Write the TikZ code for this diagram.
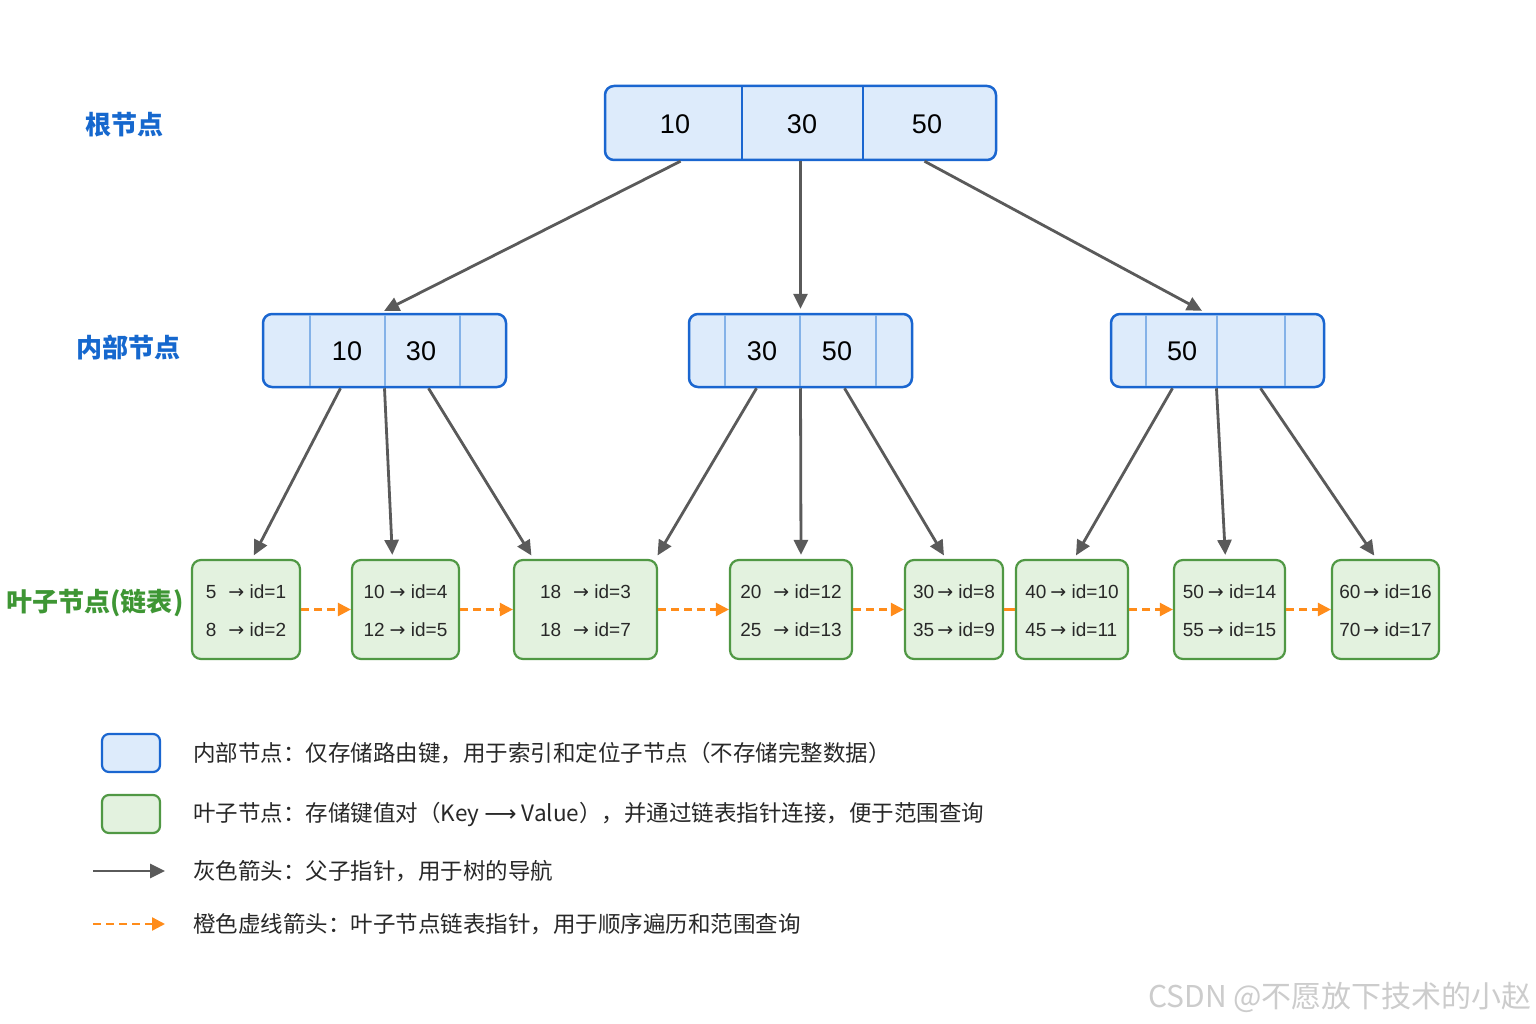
\documentclass[tikz,border=0pt]{standalone}
\usepackage{fontspec}
\setmainfont{Liberation Sans}
\newfontfamily\cjk{Noto Sans CJK SC}
\newfontfamily\sym{DejaVu Sans}
\usetikzlibrary{arrows.meta,positioning}
\definecolor{bpblue}{RGB}{26,102,208}
\definecolor{bpbluefill}{RGB}{221,235,251}
\definecolor{bpbluesep}{RGB}{132,178,232}
\definecolor{bpgreen}{RGB}{80,152,68}
\definecolor{bpgreenfill}{RGB}{227,242,223}
\definecolor{bpgray}{RGB}{90,90,90}
\definecolor{bporange}{RGB}{255,140,26}
\definecolor{bptext}{RGB}{40,40,40}
\definecolor{bplabelblue}{RGB}{22,104,206}
\definecolor{bplabelgreen}{RGB}{62,150,52}

\begin{document}
\begin{tikzpicture}[x=1pt,y=-1pt,
 keybox/.style={draw=bpblue,fill=bpbluefill,line width=2.5pt,rounded corners=9pt,
 minimum height=74pt,inner sep=0pt},
 leafbox/.style={draw=bpgreen,fill=bpgreenfill,line width=2.2pt,rounded corners=9pt,
 minimum height=99pt,inner sep=0pt,text=bptext,font=\fontsize{19}{38}\selectfont},
 rootline/.style={draw=bpblue,line width=2.2pt},
 keyline/.style={draw=bpbluesep,line width=1.6pt},
 num/.style={font=\fontsize{27}{32}\selectfont,inner sep=0pt},
 tree/.style={-{Triangle[length=15pt,width=14pt]},draw=bpgray,line width=2.8pt,shorten >=4pt},
 link/.style={-{Triangle[length=13pt,width=13pt]},draw=bporange,line width=2.4pt,
 dash pattern=on 8pt off 5pt},
 tag/.style={font=\cjk\bfseries\fontsize{26}{32}\selectfont},
 legtxt/.style={font=\cjk\fontsize{22.5}{27}\selectfont,text=bptext,inner sep=0pt}]
\useasboundingbox (0,0) rectangle (1536,1024);
\fill[white] (0,0) rectangle (1536,1024);

\node[tag,text=bplabelblue] (lroot) at (124,125) {根节点};
\node[tag,text=bplabelblue] (linner) at (128,348) {内部节点};
\node[tag,text=bplabelgreen] (lleaf) at (95,603) {叶子节点(链表)};

\node[keybox,minimum width=391pt] (root) at (800.5,123) {};
\draw[rootline] (742,86) -- (742,160) (863,86) -- (863,160);
\node[num] (r10) at (675,124) {10};
\node[num] (r30) at (802,124) {30};
\node[num] (r50) at (927,124) {50};

\node[keybox,minimum width=243pt,minimum height=73pt] (inner1) at (384.5,350.5) {};
\draw[keyline] (310,315) -- (310,386) (385,315) -- (385,386) (460,315) -- (460,386);
\node[num] (a10) at (347,351) {10};
\node[num] (a30) at (421,351) {30};

\node[keybox,minimum width=223pt,minimum height=73pt] (inner2) at (800.5,350.5) {};
\draw[keyline] (725,315) -- (725,386) (800,315) -- (800,386) (876,315) -- (876,386);
\node[num] (b30) at (762,351) {30};
\node[num] (b50) at (837,351) {50};

\node[keybox,minimum width=213pt,minimum height=73pt] (inner3) at (1217.5,350.5) {};
\draw[keyline] (1146,315) -- (1146,386) (1217,315) -- (1217,386) (1285,315) -- (1285,386);
\node[num] (c50) at (1182,351) {50};

\draw[tree] ([xshift=-120pt]root.south) -- ([xshift=-4pt]inner1.north);
\draw[tree] (root.south) -- (inner2.north);
\draw[tree] ([xshift=124pt]root.south) -- ([xshift=-12pt]inner3.north);

\node[leafbox,minimum width=108pt] (leaf1) at (246,609.5)
 {\begin{tabular}{@{}l@{\hspace{12pt}}l@{}}5 & {\sym →} id=1\\8 & {\sym →} id=2\end{tabular}};
\node[leafbox,minimum width=107pt] (leaf2) at (405.5,609.5)
 {\begin{tabular}{@{}l@{\hspace{5pt}}l@{}}10 & {\sym →} id=4\\12 & {\sym →} id=5\end{tabular}};
\node[leafbox,minimum width=143pt] (leaf3) at (585.5,609.5)
 {\begin{tabular}{@{}l@{\hspace{12pt}}l@{}}18 & {\sym →} id=3\\18 & {\sym →} id=7\end{tabular}};
\node[leafbox,minimum width=122pt] (leaf4) at (791,609.5)
 {\begin{tabular}{@{}l@{\hspace{12pt}}l@{}}20 & {\sym →} id=12\\25 & {\sym →} id=13\end{tabular}};
\node[leafbox,minimum width=98pt] (leaf5) at (954,609.5)
 {\begin{tabular}{@{}l@{\hspace{3pt}}l@{}}30 & {\sym →} id=8\\35 & {\sym →} id=9\end{tabular}};
\node[leafbox,minimum width=112pt] (leaf6) at (1072,609.5)
 {\begin{tabular}{@{}l@{\hspace{4pt}}l@{}}40 & {\sym →} id=10\\45 & {\sym →} id=11\end{tabular}};
\node[leafbox,minimum width=111pt] (leaf7) at (1229.5,609.5)
 {\begin{tabular}{@{}l@{\hspace{4pt}}l@{}}50 & {\sym →} id=14\\55 & {\sym →} id=15\end{tabular}};
\node[leafbox,minimum width=107pt] (leaf8) at (1385.5,609.5)
 {\begin{tabular}{@{}l@{\hspace{3pt}}l@{}}60 & {\sym →} id=16\\70 & {\sym →} id=17\end{tabular}};

\draw[tree] ([xshift=-44pt]inner1.south) -- ([xshift=6pt]leaf1.north);
\draw[tree] (inner1.south) -- ([xshift=-13pt]leaf2.north);
\draw[tree] ([xshift=44pt]inner1.south) -- ([xshift=-52pt]leaf3.north);
\draw[tree] ([xshift=-44pt]inner2.south) -- ([xshift=70pt]leaf3.north);
\draw[tree] (inner2.south) -- ([xshift=10pt]leaf4.north);
\draw[tree] ([xshift=44pt]inner2.south) -- ([xshift=-8pt]leaf5.north);
\draw[tree] ([xshift=-45pt]inner3.south) -- ([xshift=2pt]leaf6.north);
\draw[tree] ([xshift=-1pt]inner3.south) -- ([xshift=-4pt]leaf7.north);
\draw[tree] ([xshift=43pt]inner3.south) -- ([xshift=-9pt]leaf8.north);

\draw[link] (leaf1) -- (leaf2);
\draw[link] (leaf2) -- (leaf3);
\draw[link] (leaf3) -- (leaf4);
\draw[link] (leaf4) -- (leaf5);
\draw[draw=bporange,line width=2.4pt] (leaf5) -- (leaf6);
\draw[link] (leaf6) -- (leaf7);
\draw[link] (leaf7) -- (leaf8);

\node[keybox,minimum width=58pt,minimum height=38pt,line width=2.2pt,rounded corners=7pt]
 (legblue) at (131,753) {};
\node[leafbox,minimum width=58pt,minimum height=38pt,rounded corners=7pt]
 (leggreen) at (131,814) {};
\coordinate (ga) at (93,871);
\coordinate (gb) at (165,871);
\coordinate (oa) at (93,924);
\coordinate (ob) at (165,924);
\draw[tree,shorten >=0pt] (ga) -- (gb);
\draw[link] (oa) -- (ob);
\node[legtxt,right=32pt of legblue] (tblue)
 {内部节点：仅存储路由键，用于索引和定位子节点（不存储完整数据）};
\node[legtxt,right=32pt of leggreen] (tgreen)
 {叶子节点：存储键值对（Key {\sym ⟶} Value），并通过链表指针连接，便于范围查询};
\node[legtxt,right=28pt of gb] (tgray) {灰色箭头：父子指针，用于树的导航};
\node[legtxt,right=28pt of ob] (torange) {橙色虚线箭头：叶子节点链表指针，用于顺序遍历和范围查询};

\node[font=\cjk\fontsize{30}{36}\selectfont,text=black!20,anchor=east,inner sep=0pt]
 (mark) at (1532,997) {CSDN @不愿放下技术的小赵};
\end{tikzpicture}
\end{document}
